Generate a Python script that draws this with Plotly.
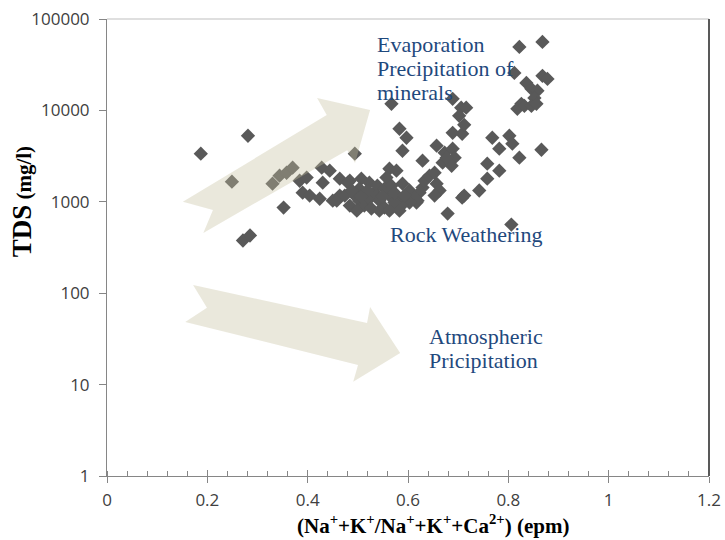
import plotly.graph_objects as go

# Na+K / (Na+K+Ca) ratio (epm) and total dissolved solids (mg/l) of each sample
ratio = [
    0.187, 0.281, 0.249, 0.352, 0.271, 0.285, 0.330, 0.344, 0.358, 0.370,
    0.384, 0.398, 0.390, 0.404, 0.428, 0.444, 0.430, 0.424, 0.450, 0.464,
    0.464, 0.484, 0.494, 0.507, 0.523, 0.458, 0.480, 0.567, 0.583, 0.597,
    0.589, 0.629, 0.563, 0.577, 0.557, 0.589, 0.603, 0.617, 0.629, 0.657,
    0.673, 0.689, 0.693, 0.669, 0.687, 0.708, 0.689, 0.633, 0.643, 0.657,
    0.663, 0.653, 0.623, 0.613, 0.619, 0.603, 0.587, 0.579, 0.679, 0.708,
    0.689, 0.706, 0.716, 0.702, 0.712, 0.768, 0.802, 0.808, 0.782, 0.822,
    0.866, 0.758, 0.782, 0.758, 0.742, 0.712, 0.806, 0.822, 0.868, 0.812,
    0.868, 0.878, 0.836, 0.846, 0.858, 0.852, 0.826, 0.818, 0.832, 0.846,
    0.856, 0.653, 0.677,
    0.494, 0.503, 0.513, 0.523, 0.533, 0.543, 0.553, 0.563, 0.573, 0.503,
    0.519, 0.539, 0.553, 0.567, 0.484, 0.498, 0.527, 0.543, 0.563, 0.583,
    0.507, 0.549, 0.474, 0.488, 0.573, 0.593,
]
tds = [
    3360, 5280, 1660, 864, 377, 428, 1580, 1930, 2080, 2360,
    1700, 1840, 1260, 1170, 2360, 2190, 1620, 1080, 1030, 1170,
    1790, 1700, 3360, 1790, 1620, 1030, 1620, 11800, 6300, 5020,
    3620, 2820, 2300, 2190, 1840, 1580, 1330, 980, 1430, 4110,
    3450, 3810, 3040, 2680, 2480, 5550, 5690, 1700, 1930, 1580,
    1330, 1170, 1260, 1110, 1030, 980, 909, 1080, 743, 1110,
    13400, 10700, 10700, 8730, 6960, 5020, 5280, 4320, 3810, 3040,
    3710, 2610, 2190, 1790, 1330, 1170, 564, 49500, 56100, 25700,
    23900, 22100, 20000, 17200, 16400, 13700, 11800, 10400, 11200, 11200,
    11800, 2080, 3040,
    1170, 1030, 909, 1080, 1260, 1030, 864, 1170, 980, 1390,
    1330, 1500, 1390, 1500, 909, 800, 843, 800, 800, 800,
    1140, 1140, 1170, 1330, 1260, 1170,
]

y_tickvals = [1, 10, 100, 1000, 10000, 100000]
y_ticktext = ["1", "10", "100", "1000", "10000", "100000"]

# Process labels: (text lines, x in ratio units, log10(TDS) of each line centre)
process_labels = [
    (["Evaporation", "Precipitation of", "minerals"], 0.535, [4.716, 4.454, 4.192]),
    (["Rock Weathering"], 0.561, [2.642]),
    (["Atmospheric", "Pricipitation"], 0.637, [1.528, 1.266]),
]

# Notched block arrows, outline vertices in paper fractions
arrow_up = [(0.126, 0.600), (0.365, 0.790), (0.349, 0.827), (0.437, 0.801),
            (0.412, 0.685), (0.399, 0.713), (0.160, 0.532), (0.176, 0.582)]
arrow_down = [(0.143, 0.418), (0.432, 0.335), (0.437, 0.370), (0.487, 0.269),
              (0.409, 0.206), (0.417, 0.243), (0.130, 0.337), (0.166, 0.368)]

AXIS_GREY = "#868686"
LABEL_BLUE = "#1F497D"
SERIF = "Liberation Serif"


def outline(points):
    return "M " + " L ".join(f"{x},{y}" for x, y in points) + " Z"


fig = go.Figure()
fig.add_trace(go.Scatter(
    x=ratio, y=tds, mode="markers",
    marker=dict(symbol="diamond", size=11, color="#595959", line=dict(width=0)),
    showlegend=False, hoverinfo="x+y",
))
# carries the inside half of the crossing major ticks on the x axis
fig.add_trace(go.Scatter(x=[None], y=[None], xaxis="x2", showlegend=False))

shapes = []
for pts in (arrow_up, arrow_down):
    shapes.append(dict(type="path", xref="paper", yref="paper", path=outline(pts),
                       fillcolor="rgb(196,190,157)", opacity=0.36,
                       line=dict(width=0), layer="above"))
shapes.append(dict(type="line", xref="paper", yref="paper", x0=0, x1=1, y0=1, y1=1,
                   line=dict(color="#BFBFBF", width=1)))
shapes.append(dict(type="line", xref="paper", yref="paper", x0=1, x1=1, y0=0, y1=1,
                   line=dict(color="#595959", width=2)))

annotations = []
for lines, x, ys in process_labels:
    for text, y in zip(lines, ys):
        annotations.append(dict(text=text, x=x, y=y, xref="x", yref="y",
                                xanchor="left", yanchor="middle", showarrow=False,
                                font=dict(family=SERIF, size=22, color=LABEL_BLUE)))
annotations.append(dict(
    text="<b>(Na<sup>+</sup>+K<sup>+</sup>/Na<sup>+</sup>+K<sup>+</sup>+Ca<sup>2+</sup>) (epm)</b>",
    x=0.5415, y=-0.106, xref="paper", yref="paper", xanchor="center", yanchor="middle",
    showarrow=False, font=dict(family=SERIF, size=21, color="#000000")))
annotations.append(dict(
    text="<b><span style='font-size:27px'>TDS</span> (mg/l)</b>",
    x=-0.142, y=0.6, xref="paper", yref="paper", xanchor="center", yanchor="middle",
    textangle=-90, showarrow=False, font=dict(family=SERIF, size=21, color="#000000")))

tick_font = dict(family="Open Sans", size=17, color="#404040")

fig.update_layout(
    width=725, height=540,
    margin=dict(l=107, r=16, t=19, b=64),
    paper_bgcolor="white", plot_bgcolor="white",
    shapes=shapes, annotations=annotations,
    xaxis=dict(range=[0, 1.2], dtick=0.2, tick0=0, ticks="outside", ticklen=6,
               tickcolor=AXIS_GREY, showline=True, linecolor=AXIS_GREY, linewidth=1,
               showgrid=False, zeroline=False, tickfont=tick_font, automargin=False,
               ticklabelstandoff=3,
               minor=dict(dtick=0.04, ticks="inside", ticklen=5, tickcolor=AXIS_GREY)),
    xaxis2=dict(range=[0, 1.2], dtick=0.2, tick0=0, overlaying="x", anchor="y",
                ticks="inside", ticklen=6, tickcolor=AXIS_GREY, showticklabels=False,
                showline=False, showgrid=False, zeroline=False, automargin=False),
    yaxis=dict(type="log", range=[0, 5], tickvals=y_tickvals, ticktext=y_ticktext,
               ticks="outside", ticklen=7, tickcolor=AXIS_GREY, showline=True,
               linecolor=AXIS_GREY, linewidth=1, showgrid=False, zeroline=False,
               tickfont=tick_font, ticklabelstandoff=6, automargin=False),
)

fig.write_html("out.html")
